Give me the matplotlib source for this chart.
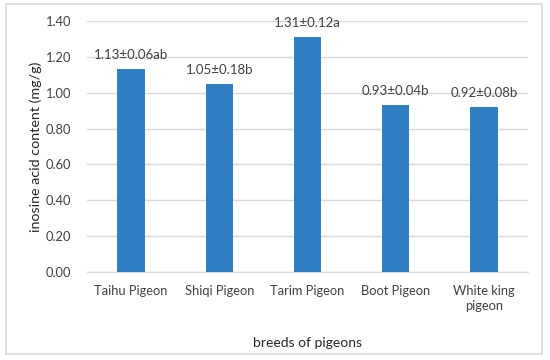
import matplotlib.pyplot as plt
from matplotlib.patches import Rectangle

breeds = ['Taihu Pigeon', 'Shiqi Pigeon', 'Tarim Pigeon', 'Boot Pigeon', 'White king\npigeon']
inosine = [1.13, 1.05, 1.31, 0.93, 0.92]
labels = ['1.13\u00b10.06ab', '1.05\u00b10.18b', '1.31\u00b10.12a', '0.93\u00b10.04b', '0.92\u00b10.08b']
yticks = [0.0, 0.2, 0.4, 0.6, 0.8, 1.0, 1.2, 1.4]

plt.rcParams['font.family'] = ['Lato', 'DejaVu Sans']

fig = plt.figure(figsize=(5.5, 3.6), dpi=100)
# light frame around the whole chart
fig.patches.append(Rectangle((6 / 550, 6 / 360), 536 / 550, 350 / 360, transform=fig.transFigure,
                             fill=False, edgecolor='#d9d9d9', linewidth=1.2))

ax = fig.add_axes([0.158, 0.244, 0.802, 0.698])
x = range(len(breeds))
ax.bar(x, inosine, width=0.31, color='#2e80c2', zorder=3)

for xi, v, lab in zip(x, inosine, labels):
    ax.annotate(lab, (xi, v), xytext=(0, 10), textcoords='offset points',
                ha='center', va='center', fontsize=9.5, color='#404040')

ax.set_xlim(-0.5, len(breeds) - 0.5)
ax.set_ylim(0, 1.4)
ax.set_yticks(yticks)
ax.set_yticklabels([f'{t:.2f}' for t in yticks])
ax.set_xticks(list(x))
ax.set_xticklabels(breeds, linespacing=1.3)
ax.grid(axis='y', color='#d9d9d9', linewidth=1, zorder=0)
for s in ['top', 'right', 'left']:
    ax.spines[s].set_visible(False)
ax.spines['bottom'].set_color('#d9d9d9')
ax.tick_params(length=0, labelsize=9.3, colors='#404040')
ax.tick_params(axis='y', pad=11)
ax.tick_params(axis='x', pad=9)

ax.set_ylabel('inosine acid content (mg/g)', fontsize=10.3, color='#262626', labelpad=3)
ax.set_xlabel('breeds of pigeons', fontsize=10, color='#262626', labelpad=18)

fig.savefig('out.png', dpi=100)
